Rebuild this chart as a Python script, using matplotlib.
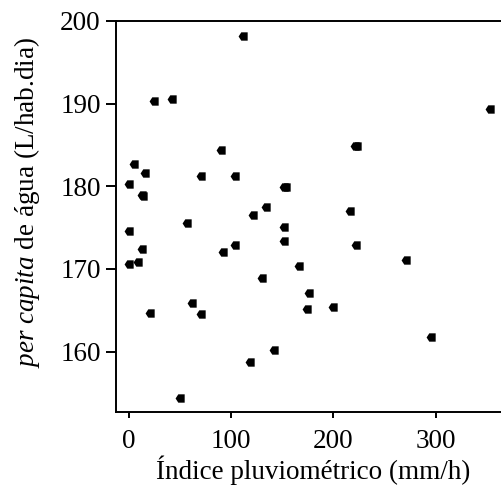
import numpy as np
import matplotlib
matplotlib.use("Agg")
import matplotlib.pyplot as plt
import matplotlib as mpl

# -------------------------------------------
# Data
# -------------------------------------------

rain = [112, 24.5, 42, 353, 90, 221, 223, 5, 16, 0, 70, 104, 152, 154,
        13, 14, 134, 121, 216, 57, 0, 152, 152, 222, 104, 12.5, 92, 0, 9,
        271.5, 166, 130, 176, 174, 200, 62, 70, 20.6, 296, 142, 118, 50]
water = [198.2, 190.3, 190.6, 189.4, 184.4, 184.9, 184.9, 182.7, 181.6,
         180.3, 181.2, 181.2, 179.9, 179.9, 179.0, 178.8, 177.5, 176.5,
         177.0, 175.6, 174.6, 175.1, 173.4, 172.9, 172.9, 172.4, 172.0,
         170.6, 170.8, 171.1, 170.4, 168.9, 167.1, 165.2, 165.4, 165.9,
         164.5, 164.7, 161.8, 160.2, 158.8, 154.4]

x_ticks = [0, 100, 200, 300]
y_ticks = [160, 170, 180, 190, 200]

# -------------------------------------------
# Style
# -------------------------------------------

mpl.rcParams['font.family'] = 'Liberation Serif'
mpl.rcParams['mathtext.fontset'] = 'custom'
mpl.rcParams['mathtext.rm'] = 'Liberation Serif'
mpl.rcParams['mathtext.it'] = 'Liberation Serif:italic'

FS = 19.5

# square with a pointed left side, like the printed marker
marker_shape = [(-1.0, 0.0), (-0.45, 0.85), (0.85, 0.85), (0.85, -0.85),
                (-0.45, -0.85), (-1.0, 0.0)]

fig = plt.figure(figsize=(5.01, 5.04), dpi=100)
# the axes run past the right edge of the figure, as in the cropped original
ax = fig.add_axes([116 / 501, 92 / 504, 404 / 501, 391 / 504])

ax.scatter(rain, water, marker=marker_shape, s=50, color='black',
           linewidths=0, zorder=3)

ax.set_xlim(-12.7, 382.6)
ax.set_ylim(152.7, 200)
ax.set_xticks(x_ticks)
ax.set_yticks(y_ticks)

for side in ['left', 'bottom', 'top']:
    ax.spines[side].set_linewidth(1.4)
ax.spines['right'].set_visible(False)

ax.tick_params(axis='y', direction='out', length=7, width=1.4, pad=4,
               labelsize=FS)
ax.tick_params(axis='x', direction='out', length=4.5, width=1.4, pad=8,
               labelsize=FS)

ax.set_xlabel('Índice pluviométrico (mm/h)', fontsize=FS, labelpad=1,
              x=0.488)
ax.set_ylabel(r'$\mathit{per\ capita}$ de água (L/hab.dia)', fontsize=FS,
              labelpad=13, y=0.536)

fig.savefig('out.png', dpi=100)
